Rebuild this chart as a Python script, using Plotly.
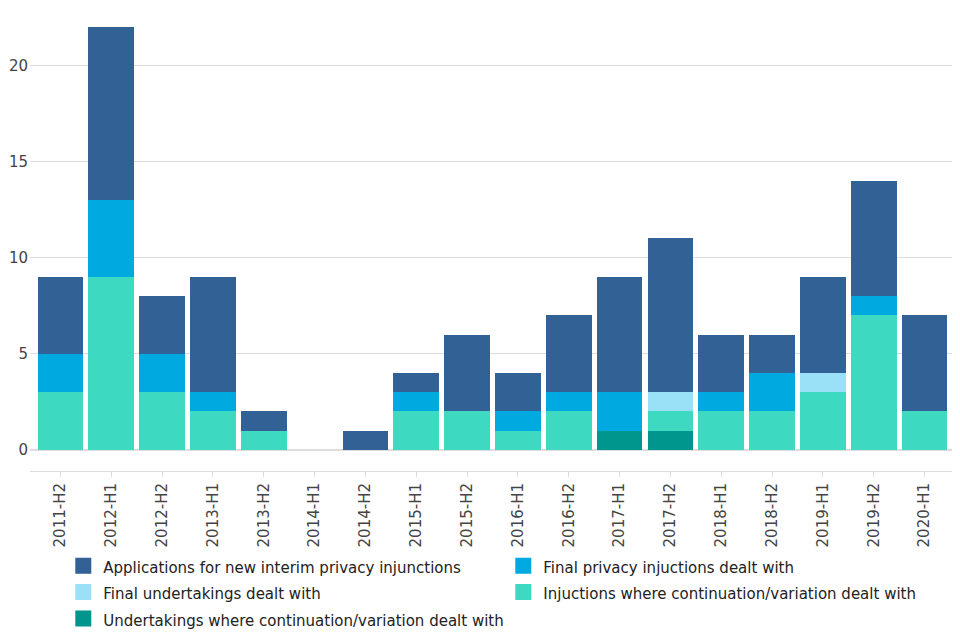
import plotly.graph_objects as go

periods = ["2011-H2", "2012-H1", "2012-H2", "2013-H1", "2013-H2", "2014-H1",
           "2014-H2", "2015-H1", "2015-H2", "2016-H1", "2016-H2", "2017-H1",
           "2017-H2", "2018-H1", "2018-H2", "2019-H1", "2019-H2", "2020-H1"]

undertakings_cont = [0, 0, 0, 0, 0, 0, 0, 0, 0, 0, 0, 1, 1, 0, 0, 0, 0, 0]
injunctions_cont = [3, 9, 3, 2, 1, 0, 0, 2, 2, 1, 2, 0, 1, 2, 2, 3, 7, 2]
final_undertakings = [0, 0, 0, 0, 0, 0, 0, 0, 0, 0, 0, 0, 1, 0, 0, 1, 0, 0]
final_injunctions = [2, 4, 2, 1, 0, 0, 0, 1, 0, 1, 1, 2, 0, 1, 2, 0, 1, 0]
new_applications = [4, 9, 3, 6, 1, 0, 1, 1, 4, 2, 4, 6, 8, 3, 2, 5, 6, 5]

series = [
    ("Undertakings where continuation/variation dealt with", undertakings_cont, "#00958d"),
    ("Injuctions where continuation/variation dealt with", injunctions_cont, "#3dd9c1"),
    ("Final undertakings dealt with", final_undertakings, "#9ae0f6"),
    ("Final privacy injuctions dealt with", final_injunctions, "#00a9e0"),
    ("Applications for new interim privacy injunctions", new_applications, "#326196"),
]

fig = go.Figure()
for name, vals, col in series:
    fig.add_trace(go.Bar(x=periods, y=vals, name=name, marker_color=col,
                         marker_line_width=0, showlegend=False))
    # legend entry: bigger square swatch, text kept at 15px while rows use 18px spacing
    fig.add_trace(go.Scatter(x=[None], y=[None], mode="markers",
                             name="<span style='font-size:15px'>" + name + "</span>",
                             marker=dict(symbol="square", size=16, color=col)))

# page body adds an 8px offset, margins compensate for it
fig.update_layout(
    barmode="stack",
    bargap=0.1,
    width=960,
    height=640,
    margin=dict(l=22, r=13, t=19, b=177),
    plot_bgcolor="white",
    paper_bgcolor="white",
    font=dict(family="DejaVu Sans", size=15, color="#444444"),
    legend=dict(
        orientation="h",
        x=0.036, xanchor="left",
        yref="container",
        y=0.157, yanchor="top",
        traceorder="reversed",
        entrywidth=395,
        font=dict(size=18, color="#222222"),
    ),
)
fig.update_xaxes(
    range=[-0.6, 17.6],
    tickangle=-90,
    ticks="outside",
    ticklen=5,
    tickcolor="#dddddd",
    showline=True,
    linecolor="#dddddd",
    linewidth=1,
    automargin=False,
)
fig.update_yaxes(
    range=[-1.1, 22],
    tickvals=[0, 5, 10, 15, 20],
    showgrid=True,
    gridcolor="#dddddd",
    zeroline=True,
    zerolinecolor="#dddddd",
    ticklabelstandoff=1,
    automargin=False,
)

fig.write_html("out.html")
